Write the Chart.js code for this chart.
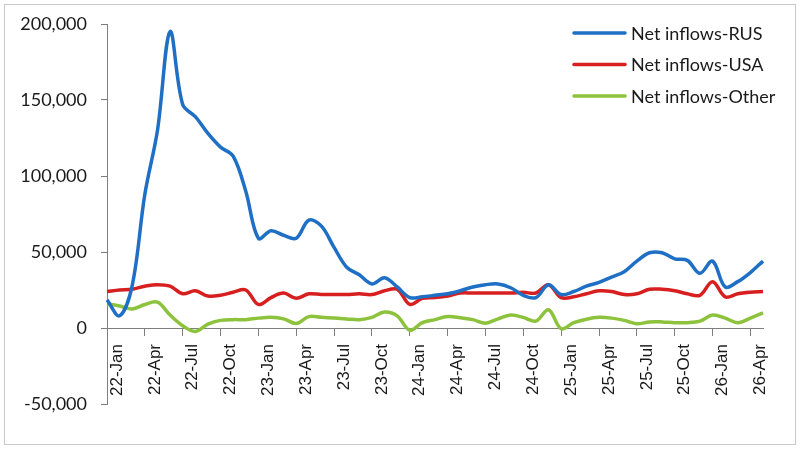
<!DOCTYPE html>
<html>
<head>
<meta charset="utf-8">
<script src="https://cdn.jsdelivr.net/npm/chart.js@4.4.1/dist/chart.umd.min.js"></script>
<style>
    html, body { margin: 0; padding: 0; background: #fff; }
</style>
</head>
<body>
<canvas id="chart" width="800" height="450"></canvas>
<script>
// Data (monthly, 22-Jan .. 26-May)
const months = [
    '22-Jan', '22-Feb', '22-Mar', '22-Apr', '22-May', '22-Jun', '22-Jul', '22-Aug', '22-Sep', '22-Oct', '22-Nov', '22-Dec',
    '23-Jan', '23-Feb', '23-Mar', '23-Apr', '23-May', '23-Jun', '23-Jul', '23-Aug', '23-Sep', '23-Oct', '23-Nov', '23-Dec',
    '24-Jan', '24-Feb', '24-Mar', '24-Apr', '24-May', '24-Jun', '24-Jul', '24-Aug', '24-Sep', '24-Oct', '24-Nov', '24-Dec',
    '25-Jan', '25-Feb', '25-Mar', '25-Apr', '25-May', '25-Jun', '25-Jul', '25-Aug', '25-Sep', '25-Oct', '25-Nov', '25-Dec',
    '26-Jan', '26-Feb', '26-Mar', '26-Apr', '26-May'
];

const netRus = [
    18500, 8000, 28000, 88000, 130000, 195000, 147000, 139000, 128000, 119000, 113000, 90000,
    59000, 64000, 61000, 59000, 71000, 67000, 53000, 40000, 35000, 29000, 33000, 27000,
    20000, 20500, 21500, 22500, 24500, 27000, 28500, 29000, 26500, 21500, 20000, 28500,
    22000, 24000, 27500, 30000, 33500, 37000, 44000, 49500, 49500, 45500, 44500, 36000,
    44000, 27000, 30500, 36500, 44000
];

const netUsa = [
    24000, 25000, 25500, 27500, 28500, 27500, 22500, 24500, 21000, 21500, 23500, 25000,
    15500, 20000, 23000, 19500, 22500, 22000, 22000, 22000, 22500, 22000, 24500, 25500,
    15500, 19500, 20000, 21000, 23000, 23000, 23000, 23000, 23000, 23500, 23000, 28500,
    20000, 20500, 22500, 24500, 24000, 22000, 22500, 25500, 25500, 24500, 22500, 21500,
    30500, 20500, 22500, 23500, 24000
];

const netOther = [
    16000, 14500, 12500, 15500, 17000, 8500, 1500, -2300, 2500, 5000, 5500, 5500,
    6500, 7000, 6000, 3000, 7500, 7000, 6500, 6000, 5500, 7000, 10500, 8000,
    -1500, 3500, 5500, 7500, 6800, 5500, 3200, 6000, 8500, 7000, 4500, 12000,
    -500, 3500, 5800, 7000, 6500, 5000, 2800, 4000, 4000, 3500, 3500, 4500,
    8500, 6500, 3500, 6500, 10000
];

const seriesNames = ['Net inflows-RUS', 'Net inflows-USA', 'Net inflows-Other'];

// Frame around the picture and the legend in the top right corner
const frameAndLegend = {
    id: 'frameAndLegend',
    beforeDraw(chart) {
        const ctx = chart.ctx;
        ctx.save();
        ctx.fillStyle = '#fff';
        ctx.fillRect(0, 0, chart.width, chart.height);
        ctx.strokeStyle = '#c9c9c9';
        ctx.lineWidth = 1;
        ctx.strokeRect(4.5, 4.5, 791, 440);
        ctx.restore();
    },
    afterDraw(chart) {
        const ctx = chart.ctx;
        ctx.save();
        ctx.font = '18px Lato';
        ctx.textBaseline = 'middle';
        ctx.fillStyle = '#1a1a1a';
        chart.data.datasets.forEach((ds, i) => {
            const y = 33 + i * 31.5;
            ctx.strokeStyle = ds.borderColor;
            ctx.lineWidth = 3.5;
            ctx.lineCap = 'round';
            ctx.beginPath();
            ctx.moveTo(574, y);
            ctx.lineTo(625, y);
            ctx.stroke();
            ctx.fillText(ds.label, 631, y + 1);
        });
        ctx.restore();
    }
};

const lineStyle = {
    borderWidth: 3.5,
    pointRadius: 0,
    tension: 0.35,
    fill: false
};

const axisGray = '#7f7f7f';

new Chart(document.getElementById('chart').getContext('2d'), {
    type: 'line',
    data: {
        labels: months,
        datasets: [
            { label: seriesNames[0], data: netRus, borderColor: '#1f6fc4', ...lineStyle },
            { label: seriesNames[1], data: netUsa, borderColor: '#d71f1f', ...lineStyle },
            { label: seriesNames[2], data: netOther, borderColor: '#8cc23c', ...lineStyle }
        ]
    },
    options: {
        responsive: false,
        animation: false,
        layout: {
            padding: { left: 5, top: 24, right: 37, bottom: 46 }
        },
        plugins: {
            legend: { display: false },
            tooltip: { enabled: false }
        },
        scales: {
            x: {
                position: { y: 0 },
                offset: false,
                border: { display: true, color: axisGray, width: 1 },
                grid: {
                    drawOnChartArea: false,
                    drawTicks: true,
                    tickLength: 7,
                    lineWidth: 1,
                    color: (c) => c.index % 3 === 0 ? axisGray : 'rgba(0,0,0,0)'
                },
                ticks: {
                    autoSkip: false,
                    maxRotation: 90,
                    minRotation: 90,
                    padding: 9,
                    labelOffset: 10,
                    color: '#1a1a1a',
                    font: { family: 'Liberation Sans', size: 17 },
                    callback: (value, index) => index % 3 === 0 ? months[index] : ''
                },
                afterFit: (scale) => {
                    scale.height = 0;
                    scale.paddingLeft = 0;
                    scale.paddingRight = 0;
                }
            },
            y: {
                min: -50000,
                max: 200000,
                border: { display: true, color: axisGray, width: 1 },
                grid: {
                    drawOnChartArea: false,
                    drawTicks: true,
                    tickLength: 6,
                    color: axisGray
                },
                ticks: {
                    stepSize: 50000,
                    padding: 14,
                    color: '#1a1a1a',
                    font: { family: 'Lato', size: 18 },
                    callback: (value) => value.toLocaleString('en-US')
                },
                afterFit: (scale) => {
                    scale.width = 102;
                    scale.paddingTop = 0;
                    scale.paddingBottom = 0;
                }
            }
        }
    },
    plugins: [frameAndLegend]
});
</script>
</body>
</html>
